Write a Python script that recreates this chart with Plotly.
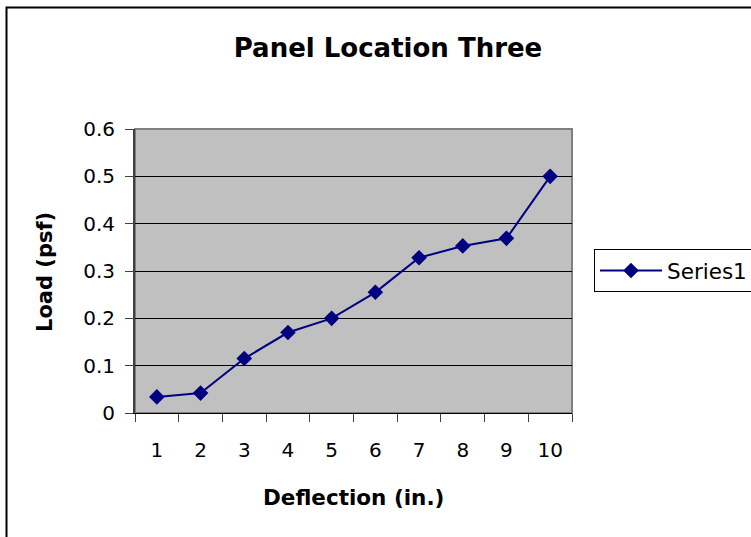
import plotly.graph_objects as go

categories = ["1", "2", "3", "4", "5", "6", "7", "8", "9", "10"]
load_psf = [0.034, 0.042, 0.115, 0.170, 0.200, 0.255, 0.328, 0.353, 0.369, 0.500]
series_name = "Series1"
title_text = "Panel Location Three"
x_title = "Deflection (in.)"
y_title = "Load (psf)"

W, H = 751, 537
L, R, T, B = 135, 572, 129, 413
pw, ph = R - L, B - T

def px(x):
    return (x - L) / pw

def py(y):
    return (B - y) / ph

FONT = "DejaVu Sans, Arial, sans-serif"
NAVY = "#000080"

fig = go.Figure()
fig.add_trace(go.Scatter(
    x=categories, y=load_psf, mode="lines+markers", name=series_name,
    line=dict(color=NAVY, width=2),
    marker=dict(symbol="diamond", size=12, color=NAVY),
))

fig.update_layout(
    width=W, height=H,
    margin=dict(l=L, r=W - R, t=T, b=H - B, pad=0, autoexpand=False),
    paper_bgcolor="white",
    plot_bgcolor="#C0C0C0",
    font=dict(family=FONT, size=20, color="black"),
    showlegend=True,
    title=dict(text="<b>" + title_text + "</b>", font=dict(size=26, family=FONT),
               x=388 / W, xanchor="center", xref="container",
               y=1 - 48 / H, yanchor="middle", yref="container"),
    legend=dict(x=px(594), y=py(249), xanchor="left", yanchor="top",
                bgcolor="white", bordercolor="black", borderwidth=1,
                font=dict(size=21.5, family=FONT), itemwidth=62,
                tracegroupgap=0),
)

fig.update_xaxes(
    type="category", range=[-0.5, 9.5], tickson="boundaries",
    ticks="outside", ticklen=8, tickcolor="#404040", tickwidth=1,
    showgrid=False, showline=True, linecolor="black", linewidth=1,
    tickfont=dict(size=20, family=FONT), zeroline=False,
    ticklabelstandoff=19, automargin=False,
)
fig.update_yaxes(
    range=[0, 0.6], dtick=0.1, tick0=0,
    ticks="outside", ticklen=8, tickcolor="#404040", tickwidth=1,
    showgrid=True, gridcolor="black", gridwidth=1,
    showline=True, linecolor="#404040", linewidth=2,
    tickfont=dict(size=20, family=FONT), zeroline=False,
    ticklabelstandoff=6, automargin=False,
)

# plot area border (top/right gray)
fig.add_shape(type="rect", xref="paper", yref="paper", x0=0, x1=1, y0=0, y1=1,
              line=dict(color="#808080", width=2), layer="below")
# outer chart border
fig.add_shape(type="rect", xref="paper", yref="paper",
              x0=px(6.5), x1=px(W + 20), y0=py(H + 20), y1=py(7.5),
              line=dict(color="black", width=2))

fig.add_annotation(text="<b>" + y_title + "</b>", xref="paper", yref="paper",
                   x=px(45), y=py(272), textangle=-90, showarrow=False,
                   font=dict(size=21, family=FONT), xanchor="center", yanchor="middle")
fig.add_annotation(text="<b>" + x_title + "</b>", xref="paper", yref="paper",
                   x=px(353), y=py(497), showarrow=False,
                   font=dict(size=21.5, family=FONT), xanchor="center", yanchor="middle")

fig.write_html("out.html")
